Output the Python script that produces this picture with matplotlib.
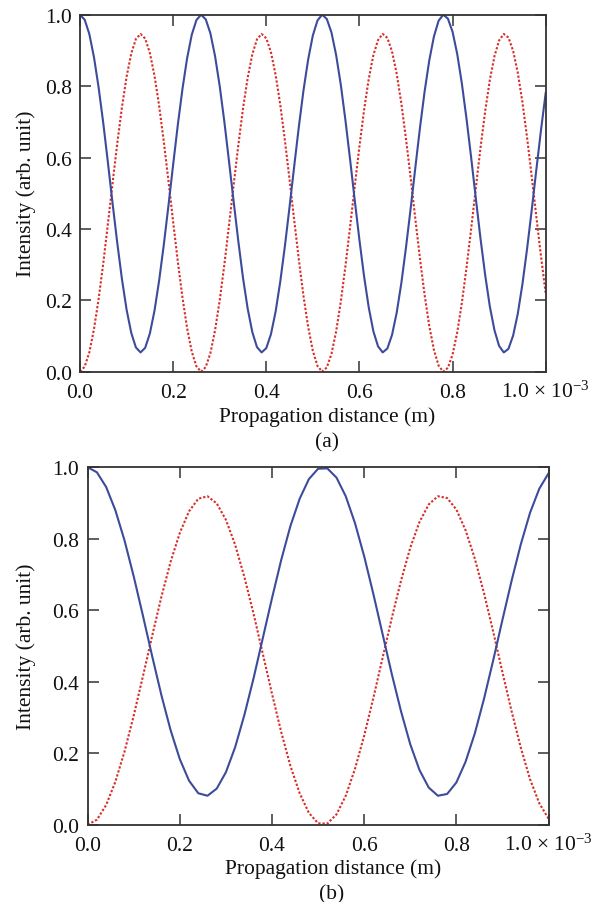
import matplotlib
matplotlib.use("Agg")
import matplotlib.pyplot as plt

plt.rcParams['font.family'] = ['Liberation Serif', 'DejaVu Serif']
plt.rcParams['mathtext.fontset'] = 'custom'
plt.rcParams['mathtext.rm'] = 'Liberation Serif'
plt.rcParams['mathtext.it'] = 'Liberation Serif:italic'

# ---- Panel (a) data: x in units of 1e-3 m ----
x_a = [i / 100 for i in range(101)]
red_a = [0.000, 0.014, 0.054, 0.119, 0.204, 0.304, 0.415, 0.529, 0.639, 0.740,
         0.826, 0.891, 0.932, 0.946, 0.933, 0.893, 0.829, 0.744, 0.644, 0.534,
         0.420, 0.309, 0.208, 0.122, 0.056, 0.015, 0.000, 0.013, 0.052, 0.116,
         0.200, 0.300, 0.411, 0.524, 0.635, 0.737, 0.823, 0.889, 0.931, 0.946,
         0.934, 0.895, 0.832, 0.748, 0.648, 0.538, 0.424, 0.313, 0.211, 0.125,
         0.058, 0.016, 0.000, 0.012, 0.050, 0.113, 0.196, 0.296, 0.406, 0.520,
         0.631, 0.733, 0.820, 0.887, 0.929, 0.946, 0.935, 0.897, 0.835, 0.752,
         0.652, 0.543, 0.429, 0.317, 0.215, 0.128, 0.061, 0.017, 0.000, 0.011,
         0.048, 0.110, 0.193, 0.292, 0.401, 0.515, 0.627, 0.729, 0.817, 0.884,
         0.928, 0.946, 0.936, 0.899, 0.838, 0.755, 0.656, 0.547, 0.433, 0.322,
         0.219]
blue_a = [1.000, 0.986, 0.946, 0.881, 0.796, 0.696, 0.585, 0.471, 0.361, 0.260,
          0.174, 0.109, 0.068, 0.054, 0.067, 0.107, 0.171, 0.256, 0.356, 0.466,
          0.580, 0.691, 0.792, 0.878, 0.944, 0.985, 1.000, 0.987, 0.948, 0.884,
          0.800, 0.700, 0.589, 0.476, 0.365, 0.263, 0.177, 0.111, 0.069, 0.054,
          0.066, 0.105, 0.168, 0.252, 0.352, 0.462, 0.576, 0.687, 0.789, 0.875,
          0.942, 0.984, 1.000, 0.988, 0.950, 0.887, 0.804, 0.704, 0.594, 0.480,
          0.369, 0.267, 0.180, 0.113, 0.071, 0.054, 0.065, 0.103, 0.165, 0.248,
          0.348, 0.457, 0.571, 0.683, 0.785, 0.872, 0.939, 0.983, 1.000, 0.989,
          0.952, 0.890, 0.807, 0.708, 0.599, 0.485, 0.373, 0.271, 0.183, 0.116,
          0.072, 0.054, 0.064, 0.101, 0.162, 0.245, 0.344, 0.453, 0.567, 0.678,
          0.781]

# ---- Panel (b) data ----
x_b = [i / 50 for i in range(51)]
red_b = [0.000, 0.014, 0.055, 0.120, 0.205, 0.306, 0.416, 0.529, 0.638, 0.736,
         0.817, 0.877, 0.912, 0.919, 0.899, 0.853, 0.783, 0.693, 0.590, 0.478,
         0.366, 0.259, 0.164, 0.088, 0.033, 0.004, 0.003, 0.029, 0.081, 0.156,
         0.249, 0.355, 0.467, 0.579, 0.683, 0.775, 0.847, 0.896, 0.919, 0.914,
         0.882, 0.824, 0.745, 0.648, 0.540, 0.427, 0.317, 0.215, 0.127, 0.060,
         0.017]
blue_b = [1.000, 0.986, 0.945, 0.880, 0.795, 0.694, 0.584, 0.471, 0.362, 0.264,
          0.183, 0.123, 0.088, 0.081, 0.101, 0.147, 0.217, 0.307, 0.410, 0.522,
          0.634, 0.741, 0.836, 0.912, 0.967, 0.996, 0.997, 0.971, 0.919, 0.844,
          0.751, 0.645, 0.533, 0.421, 0.317, 0.225, 0.153, 0.104, 0.081, 0.086,
          0.118, 0.176, 0.255, 0.352, 0.460, 0.573, 0.683, 0.785, 0.873, 0.940,
          0.983]

xticks = [0.0, 0.2, 0.4, 0.6, 0.8, 1.0]
xticklabels = ['0.0', '0.2', '0.4', '0.6', '0.8', '1.0 \u00d7 10$^{-3}$']
yticks = [0.0, 0.2, 0.4, 0.6, 0.8, 1.0]
yticklabels = ['0.0', '0.2', '0.4', '0.6', '0.8', '1.0']

BLUE = '#3d4b9b'
RED = '#d6302c'
SPINE = '#333333'
TXT = '#111111'
FS = 15.5

W, H = 602, 903
fig = plt.figure(figsize=(W / 100, H / 100), dpi=100)

panels = [
    dict(rect=[80 / W, 1 - 372.7 / H, 465.7 / W, 357 / H], x=x_a, blue=blue_a, red=red_a,
         tag='(a)', xl=(0.530, -0.124), tg=(0.530, -0.197), yl=-0.116),
    dict(rect=[87.7 / W, 1 - 825.7 / H, 460.8 / W, 357.4 / H], x=x_b, blue=blue_b, red=red_b,
         tag='(b)', xl=(0.533, -0.121), tg=(0.529, -0.194), yl=-0.134),
]

for p in panels:
    ax = fig.add_axes(p['rect'])
    ax.plot(p['x'], p['red'], color=RED, lw=1.5, linestyle=(0, (1.1, 0.9)))
    ax.plot(p['x'], p['blue'], color=BLUE, lw=1.5)
    ax.set_xlim(0, 1.0)
    ax.set_ylim(0, 1.0)
    ax.set_xticks(xticks)
    ax.set_xticklabels(xticklabels)
    ax.set_yticks(yticks)
    ax.set_yticklabels(yticklabels)
    ax.tick_params(direction='in', top=True, right=True, length=8, width=1.1,
                   color=SPINE, labelsize=FS, labelcolor=TXT)
    ax.tick_params(axis='x', pad=18)
    ax.tick_params(axis='y', pad=6)
    for lab in ax.get_xticklabels():
        lab.set_verticalalignment('baseline')
    for s in ax.spines.values():
        s.set_color(SPINE)
        s.set_linewidth(1.3)
    ax.set_xlabel('Propagation distance (m)', fontsize=FS, color=TXT, va='center')
    ax.xaxis.set_label_coords(*p['xl'])
    ax.set_ylabel('Intensity (arb. unit)', fontsize=FS, color=TXT, va='center')
    ax.yaxis.set_label_coords(p['yl'], 0.5)
    ax.text(p['tg'][0], p['tg'][1], p['tag'], transform=ax.transAxes, fontsize=FS,
            ha='center', va='center', color=TXT)

fig.savefig('out.png', dpi=100)
